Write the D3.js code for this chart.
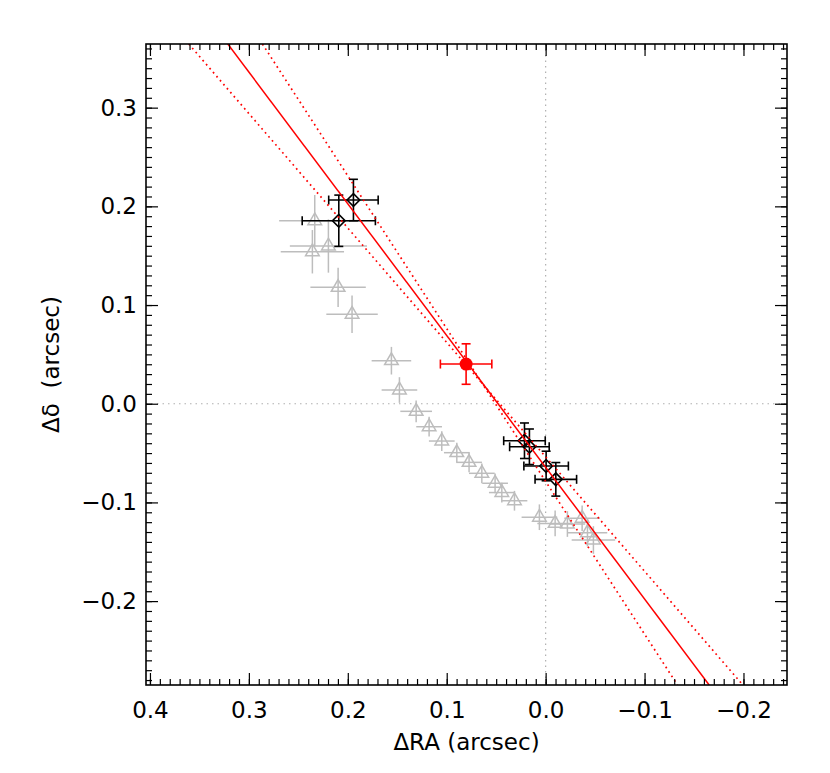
<!DOCTYPE html>
<html><head><meta charset="utf-8">
<script src="https://cdn.jsdelivr.net/npm/d3@7/dist/d3.min.js"></script>
<style>
html,body{margin:0;padding:0;background:#fff;}
text{font-family:"DejaVu Sans",sans-serif;}
</style></head>
<body>
<svg id="c" width="830" height="773"></svg>
<script>
// ---- data ----
const xDomain = [0.404, -0.244];
const yDomain = [-0.285, 0.3645];
const xMajorTicks = [0.4, 0.3, 0.2, 0.1, 0.0, -0.1, -0.2];
const yMajorTicks = [-0.2, -0.1, 0.0, 0.1, 0.2, 0.3];
const xTitle = "ΔRA (arcsec)";
const yTitle = "Δδ  (arcsec)";

// gray triangles: x, y, xerr, yerr
const triX  = [0.2334,0.2358,0.2196,0.2098,0.1957,0.1559,0.1478,0.1309,0.1178,0.1050,0.0898,0.0774,0.0645,0.0511,0.0443,0.0315,0.0063,-0.0096,-0.0220,-0.0369,-0.0423,-0.0483];
const triY  = [0.1854,0.1540,0.1598,0.1179,0.0906,0.0436,0.0139,-0.0077,-0.0233,-0.0378,-0.0496,-0.0594,-0.0705,-0.0806,-0.0900,-0.0983,-0.1150,-0.1213,-0.1219,-0.1160,-0.1307,-0.1381];
const triXe = [0.036,0.032,0.039,0.028,0.026,0.020,0.018,0.016,0.013,0.013,0.013,0.013,0.013,0.013,0.013,0.013,0.018,0.018,0.018,0.018,0.020,0.022];
const triYe = [0.026,0.022,0.027,0.020,0.019,0.014,0.013,0.011,0.010,0.010,0.010,0.010,0.010,0.010,0.010,0.010,0.013,0.013,0.013,0.013,0.014,0.014];

// black diamonds
const diaX  = [0.1943,0.2091,0.0214,0.0164,-0.0005,-0.0103];
const diaY  = [0.2064,0.1854,-0.0375,-0.0436,-0.0631,-0.0766];
const diaXe = [0.025,0.037,0.021,0.020,0.0225,0.021];
const diaYe = [0.021,0.026,0.018,0.018,0.015,0.017];

// red point
const redX = [0.0804], redY = [0.0402], redXe = [0.026], redYe = [0.0205];

// fitted line and bounds (two points each)
const fitLineX = [0.3213, -0.1653], fitLineY = [0.3645, -0.285];
const boundAX = [0.3608, -0.1994], boundAY = [0.3645, -0.285];
const boundBX = [0.2863, -0.1333], boundBY = [0.3645, -0.285];

// ---- layout ----
const L = 146, R = 787, T = 44, B = 685;
const x = d3.scaleLinear().domain(xDomain).range([L, R]);
const y = d3.scaleLinear().domain(yDomain).range([B, T]);
const svg = d3.select("#c");

svg.append("defs").append("clipPath").attr("id","clip")
  .append("rect").attr("x",L).attr("y",T).attr("width",R-L).attr("height",B-T);
const plot = svg.append("g").attr("clip-path","url(#clip)");

// zero lines
plot.append("line").attr("x1",x(0)).attr("x2",x(0)).attr("y1",T).attr("y2",B)
  .attr("stroke","#b0b0b0").attr("stroke-width",1.2).attr("stroke-dasharray","1.5,4");
plot.append("line").attr("x1",L).attr("x2",R).attr("y1",y(0)).attr("y2",y(0))
  .attr("stroke","#b0b0b0").attr("stroke-width",1.2).attr("stroke-dasharray","1.5,4");

// triangles
const gray = "#bdbdbd";
const tri = triX.map((v,i)=>({x:v,y:triY[i],xe:triXe[i],ye:triYe[i]}));
const tg = plot.append("g").attr("stroke",gray).attr("stroke-width",1.5).attr("fill","none");
tri.forEach(d=>{
  tg.append("line").attr("x1",x(d.x+d.xe)).attr("x2",x(d.x-d.xe)).attr("y1",y(d.y)).attr("y2",y(d.y));
  tg.append("line").attr("x1",x(d.x)).attr("x2",x(d.x)).attr("y1",y(d.y+d.ye)).attr("y2",y(d.y-d.ye));
  tg.append("path").attr("d",d3.symbol(d3.symbolTriangle,80)()).attr("transform",`translate(${x(d.x)},${y(d.y)})`);
});

// diamonds
const dia = diaX.map((v,i)=>({x:v,y:diaY[i],xe:diaXe[i],ye:diaYe[i]}));
function errbar(g,d,cap){
  g.append("line").attr("x1",x(d.x+d.xe)).attr("x2",x(d.x-d.xe)).attr("y1",y(d.y)).attr("y2",y(d.y));
  g.append("line").attr("x1",x(d.x)).attr("x2",x(d.x)).attr("y1",y(d.y+d.ye)).attr("y2",y(d.y-d.ye));
  [d.x+d.xe,d.x-d.xe].forEach(v=>g.append("line").attr("x1",x(v)).attr("x2",x(v)).attr("y1",y(d.y)-cap).attr("y2",y(d.y)+cap));
  [d.y+d.ye,d.y-d.ye].forEach(v=>g.append("line").attr("x1",x(d.x)-cap).attr("x2",x(d.x)+cap).attr("y1",y(v)).attr("y2",y(v)));
}
const dg = plot.append("g").attr("stroke","#000").attr("stroke-width",1.6).attr("fill","none");
dia.forEach(d=>{
  errbar(dg,d,4.5);
  dg.append("path").attr("d",d3.symbol(d3.symbolSquare,80)()).attr("transform",`translate(${x(d.x)},${y(d.y)}) rotate(45)`);
});

// red lines
const red = "#ff0000";
const lg = d3.line().x(d=>x(d[0])).y(d=>y(d[1]));
plot.append("path").attr("d",lg(fitLineX.map((v,i)=>[v,fitLineY[i]]))).attr("stroke",red).attr("stroke-width",1.5).attr("fill","none");
[[boundAX,boundAY],[boundBX,boundBY]].forEach(([bx,by])=>{
  plot.append("path").attr("d",lg(bx.map((v,i)=>[v,by[i]]))).attr("stroke",red).attr("stroke-width",1.7)
    .attr("stroke-dasharray","1.7,3.6").attr("fill","none");
});

// red point
const rg = plot.append("g").attr("stroke",red).attr("stroke-width",1.6).attr("fill","none");
redX.forEach((v,i)=>{
  const d={x:v,y:redY[i],xe:redXe[i],ye:redYe[i]};
  errbar(rg,d,4.5);
  rg.append("circle").attr("cx",x(d.x)).attr("cy",y(d.y)).attr("r",6.5).attr("fill",red).attr("stroke","none");
});

// ---- axes ----
const fmt = d3.format(".1f");
const xMinor = d3.range(-24, 41).map(v=>v/100);
const yMinor = d3.range(-28, 37).map(v=>v/100);
function styleAxis(g){ g.select(".domain").remove(); g.selectAll(".tick line").attr("stroke","#000").attr("stroke-width",1.2); g.selectAll("text").attr("font-size",23).attr("font-family","DejaVu Sans").attr("fill","#000"); }

svg.append("g").attr("transform",`translate(0,${B})`)
  .call(d3.axisBottom(x).tickValues(xMajorTicks).tickSize(-12).tickPadding(17).tickFormat(fmt)).call(styleAxis);
svg.append("g").attr("transform",`translate(0,${B})`)
  .call(d3.axisBottom(x).tickValues(xMinor).tickSize(-6).tickFormat("")).call(styleAxis);
svg.append("g").attr("transform",`translate(0,${T})`)
  .call(d3.axisTop(x).tickValues(xMajorTicks).tickSize(-12).tickFormat("")).call(styleAxis);
svg.append("g").attr("transform",`translate(0,${T})`)
  .call(d3.axisTop(x).tickValues(xMinor).tickSize(-6).tickFormat("")).call(styleAxis);
svg.append("g").attr("transform",`translate(${L},0)`)
  .call(d3.axisLeft(y).tickValues(yMajorTicks).tickSize(-12).tickPadding(9).tickFormat(fmt)).call(styleAxis);
svg.append("g").attr("transform",`translate(${L},0)`)
  .call(d3.axisLeft(y).tickValues(yMinor).tickSize(-6).tickFormat("")).call(styleAxis);
svg.append("g").attr("transform",`translate(${R},0)`)
  .call(d3.axisRight(y).tickValues(yMajorTicks).tickSize(-12).tickFormat("")).call(styleAxis);
svg.append("g").attr("transform",`translate(${R},0)`)
  .call(d3.axisRight(y).tickValues(yMinor).tickSize(-6).tickFormat("")).call(styleAxis);

svg.append("rect").attr("x",L).attr("y",T).attr("width",R-L).attr("height",B-T)
  .attr("fill","none").attr("stroke","#000").attr("stroke-width",1.6);

// titles
svg.append("text").attr("x",(L+R)/2).attr("y",750).attr("text-anchor","middle")
  .attr("font-size",23).text(xTitle);
svg.append("text").attr("transform",`translate(59,${(T+B)/2}) rotate(-90)`).attr("text-anchor","middle")
  .attr("font-size",23).style("white-space","pre").text(yTitle);
</script>
</body></html>
